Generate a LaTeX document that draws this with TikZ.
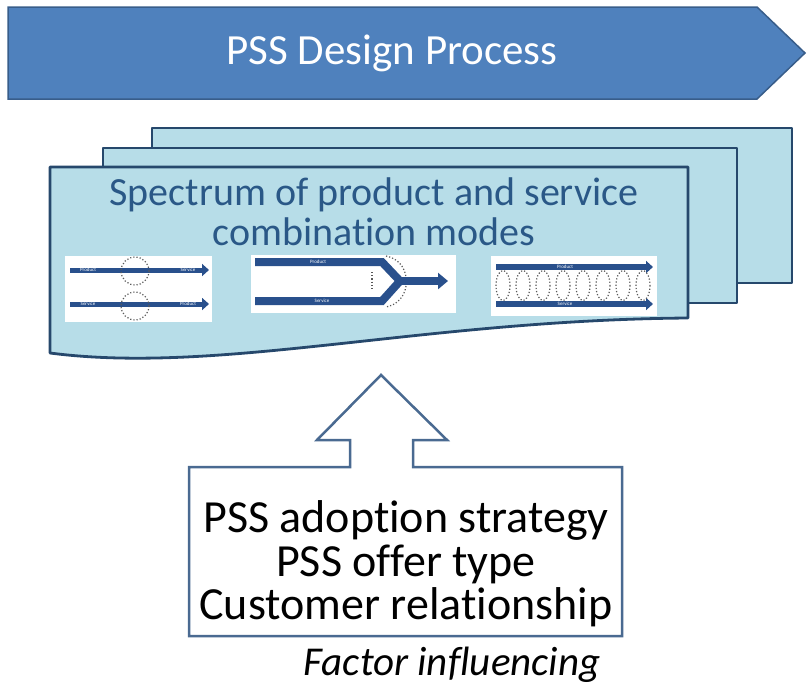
\documentclass[tikz,border=0pt]{standalone}
\usepackage{fontspec}
\setmainfont{Carlito}[Ligatures={NoCommon,NoContextual}]
\usetikzlibrary{positioning,calc,arrows.meta}
\definecolor{procfill}{RGB}{79,129,189}
\definecolor{procdraw}{RGB}{56,93,138}
\definecolor{pagefill}{RGB}{183,221,232}
\definecolor{pagedraw}{RGB}{38,72,108}
\definecolor{pagetext}{RGB}{42,88,135}
\definecolor{flowblue}{RGB}{41,80,140}
\definecolor{boxdraw}{RGB}{74,106,145}
\begin{document}
\begin{tikzpicture}[x=1pt,y=-1pt,
   page/.style={fill=pagefill,draw=pagedraw,line width=2.8pt,line join=round},
   panel/.style={fill=white,draw=none,inner sep=0pt},
   flow/.style={draw=flowblue,line width=5pt,-{Triangle[length=7pt,width=12pt]}},
   tag/.style={text=white,font=\fontsize{5}{5}\selectfont,inner sep=0pt},
   halo/.style={draw=black!65,dotted,line width=1.2pt}]
\useasboundingbox (0,0) rectangle (808,691);
% process arrow
\draw [fill=procfill,draw=procdraw,line width=1.5pt] (8,7) -- (757,7) -- (805,53) -- (757,99) -- (8,99) -- cycle;
\node (design) at (392,53) [text=white,font=\fontsize{43}{43}\selectfont] {PSS Design Process};
% stacked pages
\draw [page] (152,128) rectangle (792,283);
\draw [page] (103,148) rectangle (737,303);
\draw [page] (50,167) -- (688,167) -- (688,318) .. controls (420,320) and (220,375) .. (50,353) -- cycle;
\node (spectrum) at (374,212) [text=pagetext,align=center,font=\fontsize{40}{40}\selectfont] {Spectrum of product and service\\combination modes};
% combination modes
\path (138.5,289) node (modeA) [panel,minimum width=147pt,minimum height=66pt] {}
      (353.5,284) node (modeB) [panel,minimum width=205pt,minimum height=58pt] {}
      (574,286) node (modeC) [panel,minimum width=166pt,minimum height=60pt] {};
% mode A
\draw [flow] (70,270) -- (209,270);
\draw [flow] (70,304) -- (209,304);
\draw [halo] (135,271) circle (14);
\draw [halo] (135,306) circle (14);
\node at (88,270) [tag] {Product};
\node at (188,270) [tag] {Service};
\node at (88,304) [tag] {Service};
\node at (188,304) [tag] {Product};
% mode B
\draw [draw=flowblue,line width=8pt,line join=miter] (255,262) -- (382,262) -- (400,281) -- (382,301) -- (255,301);
\draw [flow,line width=8pt,-{Triangle[length=10pt,width=16pt]}] (398,281) -- (448,281);
\draw [halo] (386,256) to [bend left=35] (406,277);
\draw [halo] (406,286) to [bend left=35] (386,307);
\draw [halo] (372,272) -- (372,290);
\node at (318,262) [tag] {Product};
\node at (322,301) [tag] {Service};
% mode C
\draw [flow,line width=6pt] (496,267) -- (653,267);
\draw [flow,line width=6pt] (496,304) -- (653,304);
\foreach \x in {503,523,...,643}
   \draw [halo] (\x,285.5) ellipse (7 and 15);
\node at (565,267) [tag] {Product};
\node at (565,304) [tag] {Service};
% influencing factors
\node (factors) at (406,564) [align=center,font=\fontsize{46}{43.5}\selectfont] {PSS adoption strategy\\PSS offer type\\Customer relationship};
\coordinate (tip) at (381,375);
\draw [draw=boxdraw,line width=2.5pt,line join=miter] (350,467) -- (189,467) -- (189,636) -- (622,636) -- (622,467) -- (413,467)
      -- (413,440) -- (447,440) -- (tip) -- (317,440) -- (350,440) -- cycle;
\node (caption) at (452,665) [font=\fontsize{41}{41}\selectfont\itshape] {Factor influencing};
\end{tikzpicture}
\end{document}
